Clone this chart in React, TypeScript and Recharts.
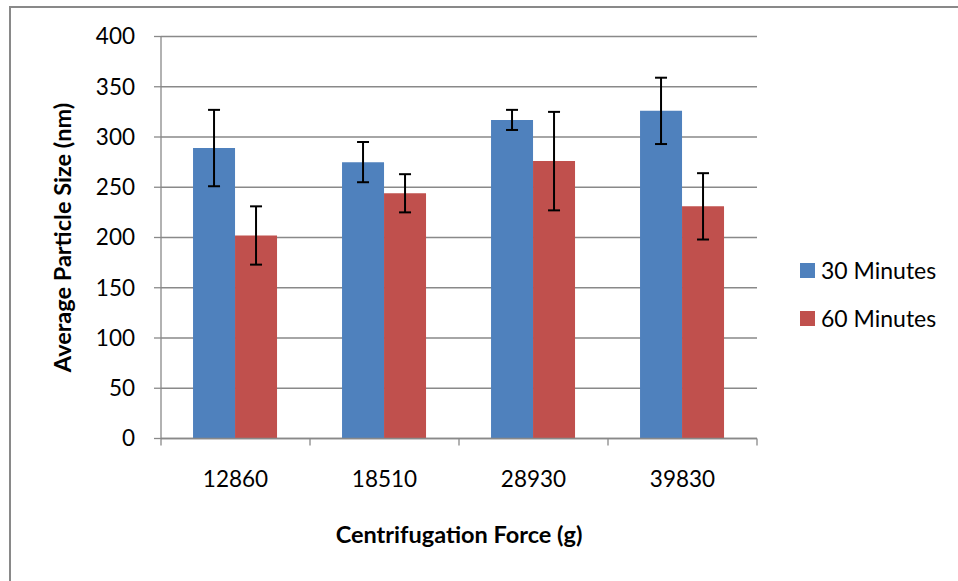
import { BarChart, Bar, XAxis, YAxis, CartesianGrid, Legend, ErrorBar, Label } from "recharts";

const forces = ["12860", "18510", "28930", "39830"];
const size30 = [289, 275, 317, 326];
const err30 = [38, 20, 10, 33];
const size60 = [202, 244, 276, 231];
const err60 = [29, 19, 49, 33];
const yTicks = [0, 50, 100, 150, 200, 250, 300, 350, 400];

const data = forces.map((f, i) => ({
  force: f,
  m30: size30[i],
  e30: err30[i],
  m60: size60[i],
  e60: err60[i],
}));

const font = "Lato, 'Open Sans', sans-serif";
const axisGray = "#898989";

function CategoryTick(props: any) {
  const { x, y, payload, index } = props;
  const half = payload.offset ?? 0;
  return (
    <g>
      <line x1={x - half} x2={x - half} y1={y} y2={y + 7} stroke={axisGray} strokeWidth={1.3} />
      {index === forces.length - 1 && (
        <line x1={x + half} x2={x + half} y1={y} y2={y + 7} stroke={axisGray} strokeWidth={1.3} />
      )}
      <text x={x} y={y + 48} textAnchor="middle" fill="#000" fontSize={22.5} fontFamily={font}>
        {payload.value}
      </text>
    </g>
  );
}

function LegendBox(props: any) {
  const items = props.payload || [];
  return (
    <div style={{ fontFamily: font, fontSize: 23, color: "#000" }}>
      {items.map((it: any) => (
        <div key={it.value} style={{ display: "flex", alignItems: "center", height: 48 }}>
          <div style={{ width: 15, height: 15, background: it.color, marginRight: 6 }} />
          <span>{it.value}</span>
        </div>
      ))}
    </div>
  );
}

export default function App() {
  return (
    <div
      style={{
        position: "absolute",
        left: 0,
        top: 0,
        width: 958,
        height: 581,
        overflow: "hidden",
        background: "#fff",
      }}
    >
      <div
        style={{
          position: "absolute",
          left: 9,
          top: 6,
          width: 980,
          height: 600,
          borderTop: `2px solid ${axisGray}`,
          borderLeft: `2px solid ${axisGray}`,
        }}
      />
      <BarChart
        width={958}
        height={581}
        data={data}
        margin={{ top: 36.5, right: 201, bottom: 82.5, left: 0 }}
        barCategoryGap="21.5%"
        barGap={0}
      >
        <CartesianGrid vertical={false} stroke={axisGray} strokeWidth={1.3} />
        <XAxis
          dataKey="force"
          height={60}
          tickSize={0}
          tickMargin={0}
          tickLine={false}
          axisLine={{ stroke: axisGray, strokeWidth: 1.3 }}
          tick={<CategoryTick />}
        >
          <Label
            content={(p: any) => {
              const vb = p.viewBox;
              return (
                <text
                  x={vb.x + vb.width / 2}
                  y={543}
                  textAnchor="middle"
                  fontSize={23.5}
                  fontWeight="bold"
                  fontFamily={font}
                  fill="#000"
                >
                  Centrifugation Force (g)
                </text>
              );
            }}
          />
        </XAxis>
        <YAxis
          width={161}
          domain={[0, 400]}
          ticks={yTicks}
          interval={0}
          tickSize={7}
          tickMargin={19}
          axisLine={{ stroke: axisGray, strokeWidth: 1.3 }}
          tickLine={{ stroke: axisGray, strokeWidth: 1.3 }}
          tick={{ fill: "#000", fontSize: 22.5, fontFamily: font }}
        >
          <Label
            content={(p: any) => {
              const vb = p.viewBox;
              const cy = vb.y + vb.height / 2;
              return (
                <text
                  x={62}
                  y={cy}
                  transform={`rotate(-90 62 ${cy})`}
                  textAnchor="middle"
                  dominantBaseline="central"
                  fontSize={23.5}
                  fontWeight="bold"
                  fontFamily={font}
                  fill="#000"
                >
                  Average Particle Size (nm)
                </text>
              );
            }}
          />
        </YAxis>
        <Legend
          layout="horizontal"
          verticalAlign="middle"
          align="center"
          wrapperStyle={{ left: 800, top: 246, width: 158 }}
          content={<LegendBox />}
        />
        <Bar dataKey="m30" name="30 Minutes" fill="#4F81BD" isAnimationActive={false}>
          <ErrorBar dataKey="e30" width={6} stroke="#000" strokeWidth={2} />
        </Bar>
        <Bar dataKey="m60" name="60 Minutes" fill="#C0504D" isAnimationActive={false}>
          <ErrorBar dataKey="e60" width={6} stroke="#000" strokeWidth={2} />
        </Bar>
      </BarChart>
    </div>
  );
}
